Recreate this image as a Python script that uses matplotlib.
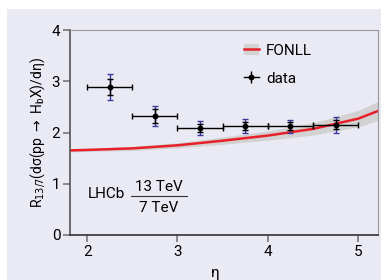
import numpy as np
import matplotlib.pyplot as plt
from matplotlib.patches import Rectangle
from matplotlib.lines import Line2D
from matplotlib.legend_handler import HandlerTuple

plt.rcParams['font.family'] = ['Roboto', 'DejaVu Sans']

# data points (eta bins)
eta = [2.25, 2.75, 3.25, 3.75, 4.25, 4.75]
ratio = [2.89, 2.32, 2.09, 2.13, 2.12, 2.15]
eta_err = [0.25, 0.25, 0.25, 0.25, 0.25, 0.25]
stat_err = [0.16, 0.13, 0.08, 0.08, 0.08, 0.09]
tot_err = [0.26, 0.19, 0.13, 0.14, 0.13, 0.16]

# FONLL prediction
fonll_eta = [1.8, 2.0, 2.5, 3.0, 3.5, 4.0, 4.5, 5.0, 5.25]
fonll_val = [1.65, 1.66, 1.69, 1.75, 1.84, 1.94, 2.07, 2.27, 2.44]
fonll_unc = [0.03, 0.03, 0.04, 0.05, 0.07, 0.09, 0.12, 0.16, 0.19]

bg = '#eaeaf5'
fig = plt.figure(figsize=(3.81, 2.8), dpi=100)
fig.patch.set_facecolor('white')
fig.patches.append(Rectangle((7 / 381, 0), 1, 1 - 9 / 280, transform=fig.transFigure,
                             facecolor=bg, edgecolor='none', zorder=-10))
ax = fig.add_axes([70 / 381, 45 / 280, 308 / 381, 205 / 280])
ax.set_facecolor(bg)

fe = np.array(fonll_eta)
fv = np.array(fonll_val)
fu = np.array(fonll_unc)
band = ax.fill_between(fe, fv - fu, fv + fu, color='#d2d2d2', lw=0, zorder=1)
line, = ax.plot(fe, fv, color='#e8202a', lw=1.8, zorder=2)

ax.errorbar(eta, ratio, yerr=tot_err, fmt='none', ecolor='#3a3aa0', elinewidth=1.0,
            capsize=2.2, capthick=1.0, zorder=3)
ax.errorbar(eta, ratio, xerr=eta_err, yerr=stat_err, fmt='o', color='black',
            ms=3.2, elinewidth=1.0, capsize=2.2, capthick=1.0, zorder=4)

ax.set_xlim(1.81, 5.22)
ax.set_ylim(0, 4)
ax.set_xticks([2, 3, 4, 5])
ax.set_yticks([0, 1, 2, 3, 4])
ax.tick_params(axis='both', direction='out', length=5, width=1.2, color='#777777',
               labelsize=11, pad=2)
for s in ['top', 'right']:
    ax.spines[s].set_color('#999999')
    ax.spines[s].set_linewidth(0.8)
ax.spines['left'].set_color('#555555')
ax.spines['left'].set_linewidth(1.2)
ax.spines['bottom'].set_color('#333333')
ax.spines['bottom'].set_linewidth(1.2)

ax.set_xlabel('η', fontsize=11, labelpad=5, x=0.47)
ax.set_ylabel(r'R$_{13/7}$(dσ(pp $\rightarrow$ H$_\mathregular{b}$X)/dη)', fontsize=10, labelpad=3)

cross = (Line2D([], [], color='black', lw=1.0, marker='|', ms=9, mew=1.0),
         Line2D([], [], color='black', lw=0, marker='o', ms=3.2))
leg = ax.legend([(band, line), cross], ['FONLL', 'data'],
                handler_map={tuple: HandlerTuple(ndivide=1)},
                loc='upper right', bbox_to_anchor=(0.83, 1.0), frameon=False,
                fontsize=11, handlelength=1.0, handletextpad=0.45, labelspacing=0.9)

ax.text(2.01, 0.80, 'LHCb', fontsize=11, va='center', ha='left')
ax.text(2.79, 0.94, '13 TeV', fontsize=11, va='center', ha='center')
ax.text(2.79, 0.52, '7 TeV', fontsize=11, va='center', ha='center')
ax.plot([2.49, 3.10], [0.76, 0.76], color='#333333', lw=0.8)

fig.savefig('out.png', dpi=100, facecolor=fig.get_facecolor())
